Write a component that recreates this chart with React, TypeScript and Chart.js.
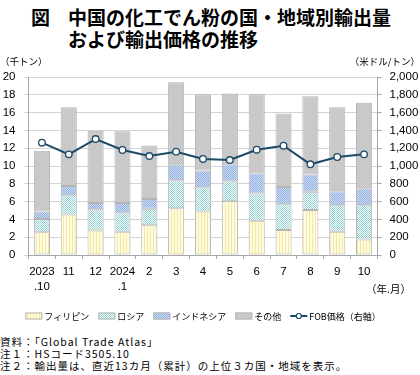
import React, { useEffect, useRef } from "react";
import { Chart, registerables } from "chart.js";

Chart.register(...registerables);

const categories: (string | string[])[] = [
  ["2023", ".10"], "11", "12", ["2024", ".1"], "2", "3", "4", "5", "6", "7", "8", "9", "10",
];
const philippines = [2.55, 4.55, 2.75, 2.6, 3.35, 5.25, 4.9, 6.05, 3.85, 2.8, 5.05, 2.6, 1.75];
const russia = [1.5, 2.15, 2.4, 2.05, 1.85, 3.15, 2.7, 2.2, 3.05, 2.9, 2.05, 3.0, 3.85];
const indonesia = [0.85, 1.05, 0.7, 1.2, 1.1, 1.8, 1.9, 1.95, 2.25, 1.95, 1.95, 1.55, 1.9];
const others = [6.8, 8.85, 8.1, 8.05, 6.0, 9.2, 8.55, 7.95, 8.9, 8.25, 8.8, 9.45, 9.6];
const fobPrice = [1262, 1131, 1303, 1180, 1112, 1161, 1079, 1067, 1183, 1228, 1019, 1101, 1131];

const leftTicks = [0, 2, 4, 6, 8, 10, 12, 14, 16, 18, 20];
const rightTicks = [0, 200, 400, 600, 800, 1000, 1200, 1400, 1600, 1800, 2000];

const JP = '"Noto Sans CJK JP", sans-serif';
const NUM = '"Liberation Sans", "Noto Sans CJK JP", sans-serif';

function makePattern(kind: string): CanvasPattern | string {
  const t = document.createElement("canvas");
  const c = t.getContext("2d")!;
  if (kind === "stripe") {
    t.width = 3; t.height = 1;
    c.fillStyle = "#fffbe0"; c.fillRect(0, 0, 3, 1);
    c.fillStyle = "#f4e9a0"; c.fillRect(0, 0, 1, 1);
  } else if (kind === "teal") {
    t.width = 2; t.height = 2;
    c.fillStyle = "#ffffff"; c.fillRect(0, 0, 2, 2);
    c.fillStyle = "#8fd2d2"; c.fillRect(0, 0, 1, 1); c.fillRect(1, 1, 1, 1);
  } else {
    t.width = 2; t.height = 2;
    c.fillStyle = "#cddcf2"; c.fillRect(0, 0, 2, 2);
    c.fillStyle = "#93b1e0"; c.fillRect(0, 0, 1, 1); c.fillRect(1, 1, 1, 1);
  }
  const p = c.createPattern(t, "repeat");
  return p || "#ccc";
}

const CANVAS_TOP = 50;
const CANVAS_H = 278;

export default function App() {
  const ref = useRef<HTMLCanvasElement>(null);
  useEffect(() => {
    if (!ref.current) return;
    const pPhil = makePattern("stripe");
    const pRus = makePattern("teal");
    const pIndo = makePattern("blue");
    const border = "#b4b4b4";
    const lineColor = "#1c4a68";

    const extras = {
      id: "extras",
      afterDraw(chart: any) {
        const ctx = chart.ctx as CanvasRenderingContext2D;
        ctx.save();
        ctx.fillStyle = "#000";
        ctx.textBaseline = "middle";
        ctx.font = `9.5px ${JP}`;
        ctx.textAlign = "left";
        ctx.fillText("（千トン）", 0, 61 - CANVAS_TOP);
        ctx.textAlign = "right";
        ctx.fillText("（米ドル/トン）", 420, 61 - CANVAS_TOP);
        ctx.font = `10.5px ${JP}`;
        ctx.fillText("（年.月）", 411, 289 - CANVAS_TOP);

        // legend
        const items = [
          { label: "フィリピン", fill: pPhil, type: "box" },
          { label: "ロシア", fill: pRus, type: "box" },
          { label: "インドネシア", fill: pIndo, type: "box" },
          { label: "その他", fill: "#c9c9c9", type: "box" },
          { label: "FOB価格（右軸）", fill: lineColor, type: "line" },
        ];
        ctx.font = `9px ${JP}`;
        const boxW = 17, gapBT = 2, gapItems = 9;
        let total = 0;
        items.forEach((it, i) => {
          total += boxW + gapBT + ctx.measureText(it.label).width + (i < items.length - 1 ? gapItems : 0);
        });
        let x = 203 - total / 2;
        const y = 316 - CANVAS_TOP;
        ctx.textAlign = "left";
        items.forEach((it) => {
          if (it.type === "box") {
            ctx.fillStyle = it.fill as any;
            ctx.fillRect(x, y - 3.5, boxW, 7);
            ctx.strokeStyle = border;
            ctx.lineWidth = 1;
            ctx.strokeRect(x + 0.5, y - 3, boxW - 1, 6);
          } else {
            ctx.strokeStyle = lineColor;
            ctx.lineWidth = 2;
            ctx.beginPath();
            ctx.moveTo(x, y);
            ctx.lineTo(x + boxW, y);
            ctx.stroke();
            ctx.beginPath();
            ctx.arc(x + boxW / 2, y, 2.5, 0, Math.PI * 2);
            ctx.fillStyle = "#fff";
            ctx.fill();
            ctx.lineWidth = 1.2;
            ctx.stroke();
          }
          x += boxW + gapBT;
          ctx.fillStyle = "#000";
          ctx.fillText(it.label, x, y + 0.5);
          x += ctx.measureText(it.label).width + gapItems;
        });
        ctx.restore();
      },
    };

    const barCommon = {
      type: "bar" as const,
      borderColor: border,
      borderWidth: 1,
      borderSkipped: false,
      barPercentage: 0.6,
      categoryPercentage: 1,
      yAxisID: "y",
      stack: "s",
      order: 1,
    };

    const chart = new Chart(ref.current, {
      type: "bar",
      data: {
        labels: categories,
        datasets: [
          { ...barCommon, label: "フィリピン", data: philippines, backgroundColor: pPhil as any },
          { ...barCommon, label: "ロシア", data: russia, backgroundColor: pRus as any },
          { ...barCommon, label: "インドネシア", data: indonesia, backgroundColor: pIndo as any },
          { ...barCommon, label: "その他", data: others, backgroundColor: "#c9c9c9" },
          {
            type: "line",
            label: "FOB価格（右軸）",
            data: fobPrice,
            yAxisID: "y1",
            borderColor: lineColor,
            borderWidth: 2,
            pointRadius: 3.3,
            pointBorderWidth: 1.3,
            pointBackgroundColor: "#ffffff",
            pointBorderColor: lineColor,
            tension: 0,
            order: 0,
          } as any,
        ],
      },
      options: {
        animation: false,
        responsive: false,
        maintainAspectRatio: false,
        layout: { padding: { top: 27, bottom: CANVAS_H - 27 - 178 - 50, left: 0, right: 0 } },
        plugins: { legend: { display: false }, tooltip: { enabled: false }, title: { display: false } },
        scales: {
          x: {
            stacked: true,
            afterFit: (s: any) => { s.height = 50; },
            grid: { drawOnChartArea: false, offset: true, tickLength: 4, color: "#a6a6a6" },
            border: { color: "#a6a6a6" },
            ticks: {
              color: "#000",
              padding: 5,
              maxRotation: 0,
              autoSkip: false,
              font: { family: NUM, size: 11.5, lineHeight: 1.3 },
            },
          },
          y: {
            stacked: true,
            position: "left",
            min: 0,
            max: 20,
            afterFit: (s: any) => { s.width = 28.5; },
            afterBuildTicks: (s: any) => { s.ticks = leftTicks.map((v) => ({ value: v })); },
            grid: { color: "#d4d4d4", tickLength: 4 },
            border: { color: "#a6a6a6" },
            ticks: { color: "#000", padding: 9, font: { family: NUM, size: 11.5 } },
          },
          y1: {
            position: "right",
            min: 0,
            max: 2000,
            afterFit: (s: any) => { s.width = 42.5; },
            afterBuildTicks: (s: any) => { s.ticks = rightTicks.map((v) => ({ value: v })); },
            grid: { drawOnChartArea: false, color: "#a6a6a6", tickLength: 4 },
            border: { color: "#a6a6a6" },
            ticks: {
              color: "#000",
              padding: 8,
              font: { family: NUM, size: 11.5 },
              callback: (v: any) => Number(v).toLocaleString("en-US"),
            },
          },
        },
      },
      plugins: [extras],
    });
    return () => chart.destroy();
  }, []);

  return (
    <div style={{ position: "absolute", left: 0, top: 0, width: 420, height: 375, background: "#fff", fontFamily: JP, color: "#000" }}>
      <div style={{ position: "absolute", left: 31, top: 6, fontSize: 19, fontWeight: 700, lineHeight: "22px", whiteSpace: "nowrap" }}>図</div>
      <div style={{ position: "absolute", left: 68, top: 6, fontSize: 19, fontWeight: 700, lineHeight: "21.5px", whiteSpace: "nowrap" }}>
        中国の化工でん粉の国・地域別輸出量<br />および輸出価格の推移
      </div>
      <canvas ref={ref} width={420} height={CANVAS_H} style={{ position: "absolute", left: 0, top: CANVAS_TOP, width: 420, height: CANVAS_H }} />
      <div style={{ position: "absolute", left: 0, top: 336, fontSize: 10.5, letterSpacing: "1px", lineHeight: "11.8px", whiteSpace: "nowrap" }}>
        資料：「Global Trade Atlas」<br />注１：HSコード3505.10<br />注２：輸出量は、直近13カ月（累計）の上位３カ国・地域を表示。
      </div>
    </div>
  );
}
